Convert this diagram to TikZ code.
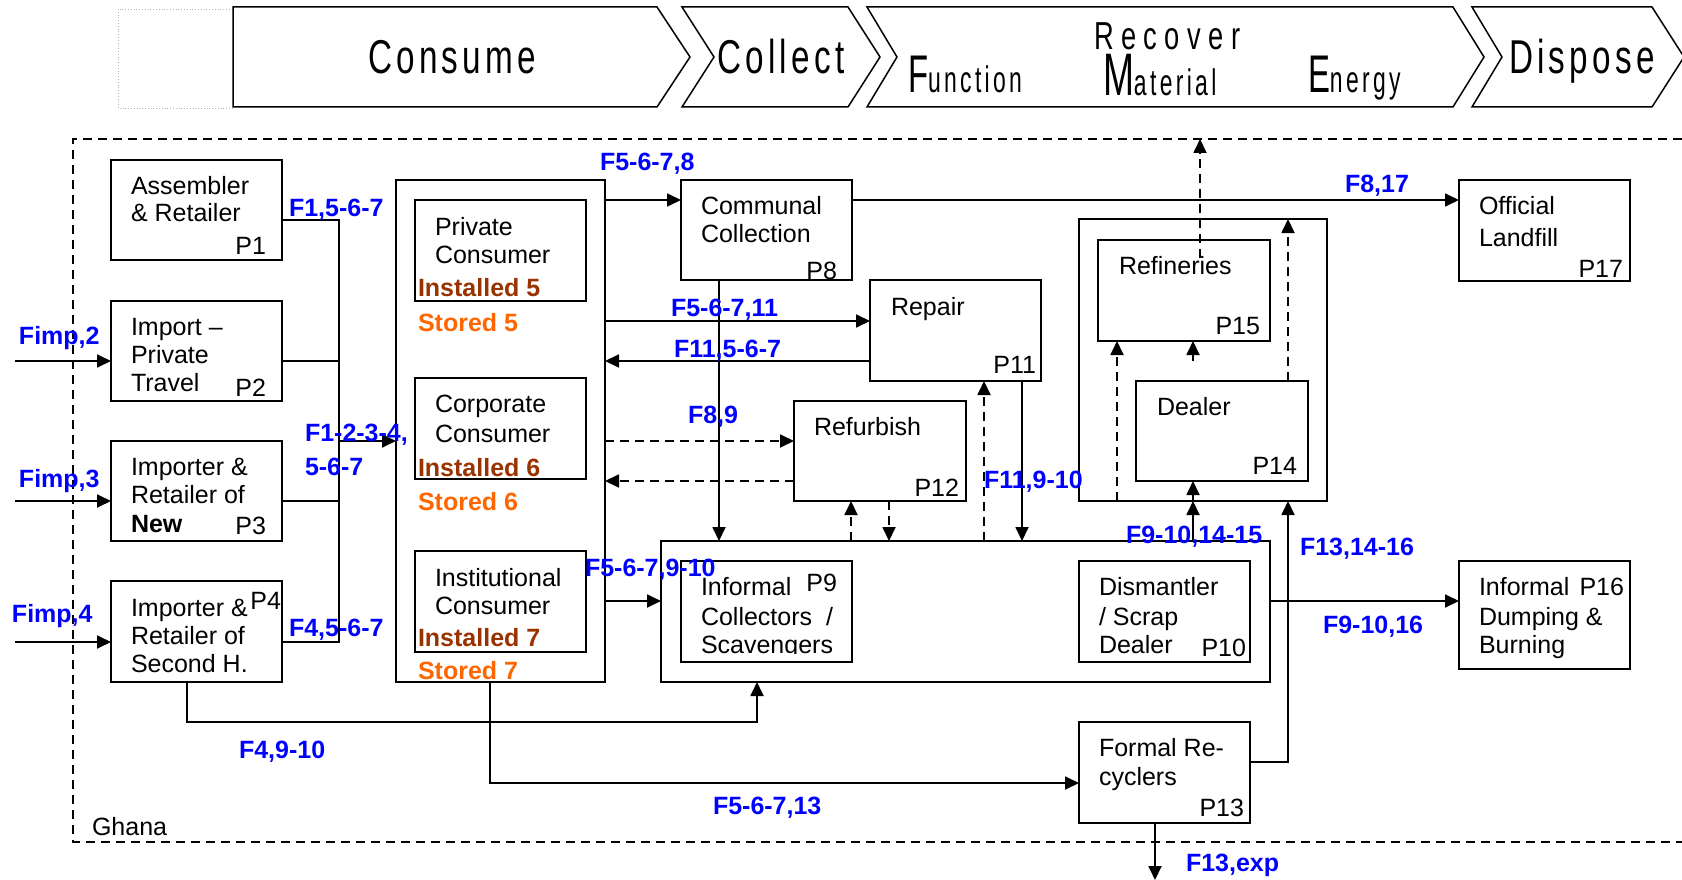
\documentclass[tikz,border=0pt]{standalone}
\usepackage{fontspec}
\setmainfont{Liberation Sans}
\newfontfamily\hdrA[FakeStretch=0.7,LetterSpace=9]{Liberation Sans}
\newfontfamily\hdrR[FakeStretch=0.7,LetterSpace=19]{Liberation Sans}
\newfontfamily\hdrF[FakeStretch=0.62,LetterSpace=9]{Liberation Sans}
\usetikzlibrary{arrows.meta}
\definecolor{fblue}{RGB}{0,0,255}
\definecolor{instc}{RGB}{153,51,0}
\definecolor{storc}{RGB}{255,102,0}
\tikzset{
  bx/.style={draw, line width=1.8pt, inner sep=0pt, outer sep=0pt},
  txt/.style={inner sep=0pt, outer sep=0pt, anchor=base west},
  rtxt/.style={inner sep=0pt, outer sep=0pt, anchor=base east},
  flab/.style={txt, text=fblue, font=\fontsize{25}{28}\selectfont\bfseries},
  inst/.style={txt, text=instc, font=\fontsize{25}{28}\selectfont\bfseries},
  stor/.style={txt, text=storc, font=\fontsize{25}{28}\selectfont\bfseries},
  conn/.style={line width=1.8pt},
  arr/.style={conn, -{Triangle[length=14pt,width=13pt]}},
  dsh/.style={dash pattern=on 9pt off 6pt},
  chev/.style={draw, line width=1.5pt, fill=white},
  hdrbig/.style={txt, font=\hdrA\fontsize{47.5}{50}\selectfont},
  hdrsm/.style={txt, font=\hdrF\fontsize{37}{39}\selectfont},
}
\newcommand{\pbox}[5]{\node[bx, minimum width={#4-#2}, minimum height={#5-#3}] (#1) at ({(#2+#4)/2},{(#3+#5)/2}) {};}
\newcommand{\tl}[4]{\node[txt] (#1) at (#2,#3) {#4};}
\newcommand{\tr}[4]{\node[rtxt] (#1) at (#2,#3) {#4};}
\begin{document}
\begin{tikzpicture}[x=1pt,y=-1pt, font=\fontsize{25}{28}\selectfont]
\useasboundingbox (0,0) rectangle (1682,880);

% ---------- header ----------
\draw[gray!60, dotted, line width=0.8pt] (118,9) rectangle (233,108);
\draw[chev] (233,7) -- (657,7) -- (690,57) -- (657,107) -- (233,107) -- cycle;
\draw[chev] (682,7) -- (848,7) -- (880,57) -- (848,107) -- (682,107) -- (714,57) -- cycle;
\draw[chev] (867,7) -- (1453,7) -- (1484,57) -- (1453,107) -- (867,107) -- (897,57) -- cycle;
\draw[chev] (1472,7) -- (1652,7) -- (1684,57) -- (1652,107) -- (1472,107) -- (1502,57) -- cycle;
\node[hdrbig] (hcons) at (368,74) {Consume};
\node[hdrbig] (hcoll) at (717,74) {Collect};
\node[hdrbig] (hdisp) at (1509,74) {Dispose};
\node[txt, font=\hdrR\fontsize{39}{41}\selectfont] (hrec) at (1094,50) {Recover};
\node[hdrsm] (hfun) at (908,93) {{\fontsize{53}{55}\selectfont F}unction};
\node[hdrsm] (hmat) at (1103,96) {{\fontsize{60}{62}\selectfont M}aterial};
\node[hdrsm] (hene) at (1308,93) {{\fontsize{53}{55}\selectfont E}nergy};

% ---------- system boundary ----------
\draw[line width=1.5pt, dsh] (1682,139) -- (73,139) -- (73,842) -- (1682,842);
\tl{ghana}{92}{835}{Ghana}

% ---------- boxes ----------
\pbox{p1}{111}{160}{282}{260}
\pbox{p2}{111}{301}{282}{401}
\pbox{p3}{111}{441}{282}{541}
\pbox{p4}{111}{581}{282}{682}
\pbox{cons}{396}{180}{605}{682}
\pbox{p5}{415}{200}{586}{301}
\pbox{p6}{415}{378}{586}{479}
\pbox{p7}{415}{551}{586}{652}
\pbox{p8}{681}{180}{852}{280}
\pbox{p11}{870}{280}{1041}{381}
\pbox{p12}{794}{401}{966}{501}
\pbox{cont}{1079}{219}{1327}{501}
\pbox{p15}{1098}{240}{1270}{341}
\pbox{p14}{1136}{381}{1308}{481}
\pbox{p17}{1459}{180}{1630}{281}
\pbox{p9o}{661}{541}{1270}{682}
\pbox{p9}{681}{561}{852}{662}
\pbox{p10}{1079}{561}{1250}{662}
\pbox{p13}{1079}{722}{1250}{823}
\pbox{p16}{1459}{561}{1630}{669}

% ---------- connectors ----------
\coordinate (in2) at (15,361);
\coordinate (in3) at (15,501);
\coordinate (in4) at (15,642);
\draw[arr] (in2) -- (p2.west |- in2);
\draw[arr] (in3) -- (p3.west |- in3);
\draw[arr] (in4) -- (p4.west |- in4);
\coordinate (bt) at (339,220);
\coordinate (bb) at (339,642);
\coordinate (bm) at (339,441);
\draw[conn] (p1.east |- bt) -- (bt) -- (bb) -- (p4.east |- bb);
\draw[conn] (p2.east |- in2) -- (bt |- in2);
\draw[conn] (p3.east |- in3) -- (bt |- in3);
\draw[arr] (bm) -- (cons.west |- bm);

\draw[arr] (cons.east |- 0,200) -- (p8.west |- 0,200);
\draw[arr] (p8.east |- 0,200) -- (p17.west |- 0,200);
\draw[arr] (p8.south -| 719,0) -- (p9o.north -| 719,0);
\draw[arr] (cons.east |- 0,321) -- (p11.west |- 0,321);
\draw[arr] (p11.west |- 0,361) -- (cons.east |- 0,361);
\draw[arr,dsh] (cons.east |- 0,441) -- (p12.west |- 0,441);
\draw[arr,dsh] (p12.west |- 0,481) -- (cons.east |- 0,481);
\draw[arr,dsh] (p9o.north -| 851,0) -- (p12.south -| 851,0);
\draw[arr,dsh] (p12.south -| 889,0) -- (p9o.north -| 889,0);
\draw[arr,dsh] (p9o.north -| 984,0) -- (p11.south -| 984,0);
\draw[arr] (p11.south -| 1022,0) -- (p9o.north -| 1022,0);
\draw[arr] (cons.east |- 0,601) -- (p9o.west |- 0,601);
\draw[arr] (p4.south -| 187,0) -- (187,722) -- (757,722) -- (p9o.south -| 757,0);
\draw[arr] (cons.south -| 490,0) -- (490,783) -- (p13.west |- 0,783);
\draw[arr] (p13.east |- 0,762) -- (1288,762) -- (cont.south -| 1288,0);
\draw[arr] (p9o.north -| 1193,0) -- (cont.south -| 1193,0);
\draw[arr] (cont.south -| 1193,0) -- (p14.south -| 1193,0);
\draw[arr,dsh] (cont.south -| 1117,0) -- (p15.south -| 1117,0);
\coordinate (stub) at (1193,361);
\draw[arr] (stub) -- (p15.south -| stub);
\draw[arr,dsh] (p14.north -| 1288,0) -- (cont.north -| 1288,0);
\coordinate (rf) at (1200,258);
\coordinate (rftop) at (1200,139);
\draw[arr,dsh] (rf) -- (rftop);
\draw[arr] (p9o.east |- 0,601) -- (p16.west |- 0,601);
\coordinate (exp) at (1155,880);
\draw[arr] (p13.south -| exp) -- (exp);

% ---------- box texts ----------
\tl{t1a}{131}{194}{Assembler}
\tl{t1b}{131}{222}{\& Retailer}
\tr{t1p}{266}{254}{P1}
\tl{t2a}{131}{335}{Import –}
\tl{t2b}{131}{363}{Private}
\tl{t2c}{131}{391}{Travel}
\tr{t2p}{266}{396}{P2}
\tl{t3a}{131}{475}{Importer \&}
\tl{t3b}{131}{503}{Retailer of}
\tl{t3c}{131}{532}{\bfseries New}
\tr{t3p}{266}{534}{P3}
\tl{t4a}{131}{616}{Importer \&}
\tl{t4b}{131}{644}{Retailer of}
\begin{scope}
\clip (111,581) rectangle (282,672);
\tl{t4c}{131}{672}{Second H.}
\end{scope}
\tr{t4p}{281}{609}{P4}

\tl{t5a}{435}{235}{Private}
\tl{t5b}{435}{263}{Consumer}
\node[inst] (i5) at (418,296) {Installed 5};
\node[stor] (s5) at (418,331) {Stored 5};
\tl{t6a}{435}{412}{Corporate}
\tl{t6b}{435}{442}{Consumer}
\node[inst] (i6) at (418,476) {Installed 6};
\node[stor] (s6) at (418,510) {Stored 6};
\tl{t7a}{435}{586}{Institutional}
\tl{t7b}{435}{614}{Consumer}
\node[inst] (i7) at (418,646) {Installed 7};
\node[stor] (s7) at (418,679) {Stored 7};

\tl{t8a}{701}{214}{Communal}
\tl{t8b}{701}{242}{Collection}
\tr{t8p}{837}{279}{P8}
\tl{t11a}{891}{315}{Repair}
\tr{t11p}{1036}{373}{P11}
\tl{t12a}{814}{435}{Refurbish}
\tr{t12p}{959}{496}{P12}
\tl{t15a}{1119}{274}{Refineries}
\tr{t15p}{1260}{334}{P15}
\tl{t14a}{1157}{415}{Dealer}
\tr{t14p}{1297}{474}{P14}
\tl{t17a}{1479}{214}{Official}
\tl{t17b}{1479}{246}{Landfill}
\tr{t17p}{1623}{277}{P17}
\tl{t16a}{1479}{595}{Informal}
\tr{t16p}{1624}{595}{P16}
\tl{t16b}{1479}{625}{Dumping \&}
\tl{t16c}{1479}{653}{Burning}
\tl{t9a}{701}{595}{Informal}
\tr{t9p}{837}{591}{P9}
\tl{t9b}{701}{625}{Collectors}
\tl{t9s}{826}{625}{/}
\begin{scope}
\clip (681,561) rectangle (852,653);
\tl{t9c}{701}{653}{Scavengers}
\end{scope}
\tl{t10a}{1099}{595}{Dismantler}
\tl{t10b}{1099}{625}{/ Scrap}
\begin{scope}
\clip (1079,561) rectangle (1250,653);
\tl{t10c}{1099}{653}{Dealer}
\end{scope}
\tr{t10p}{1246}{656}{P10}
\tl{t13a}{1099}{756}{Formal Re-}
\tl{t13b}{1099}{785}{cyclers}
\tr{t13p}{1244}{816}{P13}

% ---------- flow labels ----------
\node[flab] (lf2) at (19,344) {Fimp,2};
\node[flab] (lf3) at (19,487) {Fimp,3};
\node[flab] (lf4) at (12,622) {Fimp,4};
\node[flab] (l1) at (289,216) {F1,5-6-7};
\node[flab] (l2) at (305,441) {F1-2-3-4,};
\node[flab] (l2b) at (305,475) {5-6-7};
\node[flab] (l3) at (289,636) {F4,5-6-7};
\node[flab] (l4) at (239,758) {F4,9-10};
\node[flab] (l5) at (600,171) {F5-6-7,8};
\node[flab] (l6) at (671,316) {F5-6-7,11};
\node[flab] (l7) at (674,357) {F11,5-6-7};
\node[flab] (l8) at (688,423) {F8,9};
\node[flab] (l9) at (984,488) {F11,9-10};
\node[flab] (l10) at (1345,193) {F8,17};
\node[flab] (l11) at (585,576) {F5-6-7,9-10};
\node[flab] (l12) at (1126,543) {F9-10,14-15};
\node[flab] (l13) at (1300,555) {F13,14-16};
\node[flab] (l14) at (1323,633) {F9-10,16};
\node[flab] (l15) at (713,814) {F5-6-7,13};
\node[flab] (l16) at (1186,871) {F13,exp};
\end{tikzpicture}
\end{document}
